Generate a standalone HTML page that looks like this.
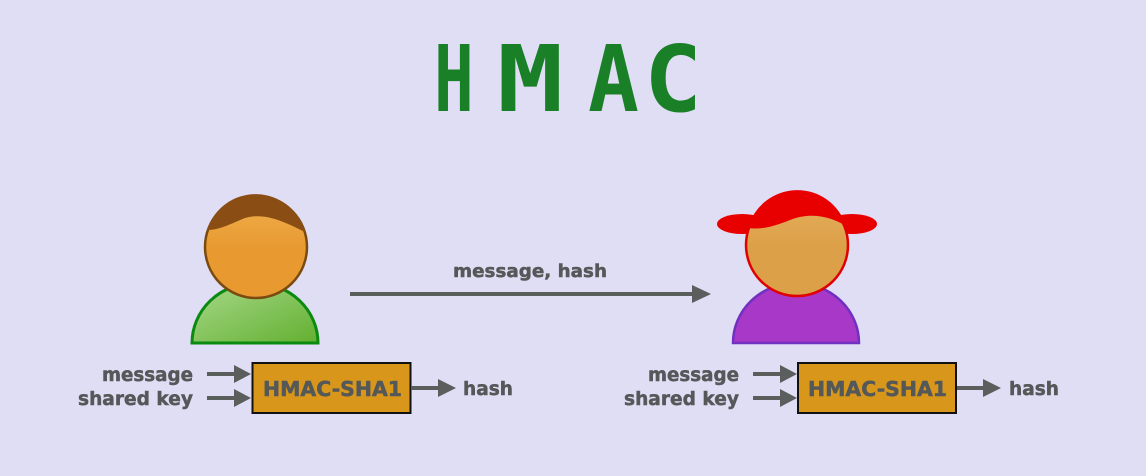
<!DOCTYPE html>
<html><head><style>
html,body{margin:0;padding:0;background:#e0def5;}
svg{display:block}
text{font-family:"DejaVu Sans","Liberation Sans",sans-serif;font-weight:bold;fill:#545858;stroke:#545858;stroke-width:0.5}
.t{fill:#1a8028;stroke:none;font-family:"DejaVu Sans Mono","Liberation Mono",monospace}
</style></head><body>
<svg width="1146" height="476" viewBox="0 0 1146 476" xmlns="http://www.w3.org/2000/svg">
<defs>
<linearGradient id="gb" x1="0" y1="0" x2="1" y2="1"><stop offset="0" stop-color="#a8d88a"/><stop offset="1" stop-color="#62b030"/></linearGradient>
<linearGradient id="gf" x1="0" y1="0" x2="0" y2="1"><stop offset="0" stop-color="#f0b050"/><stop offset="0.5" stop-color="#e89a30"/><stop offset="1" stop-color="#e89a30"/></linearGradient>
<linearGradient id="gf2" x1="0" y1="0" x2="0" y2="1"><stop offset="0" stop-color="#e6b060"/><stop offset="0.5" stop-color="#dca048"/><stop offset="1" stop-color="#dca048"/></linearGradient>
</defs>
<rect width="1146" height="476" fill="#e0def5"/>
<text class="t" transform="translate(434,111) scale(0.72,1)" font-size="92">H</text>
<text class="t" transform="translate(497,111) scale(1.2,1)" font-size="92">M</text>
<text class="t" transform="translate(588,111) scale(0.92,1)" font-size="92">A</text>
<text class="t" transform="translate(644,111) scale(1.05,1)" font-size="92">C</text>

<!-- boy -->
<path d="M192,343 A63,60 0 0 1 318,343 Z" fill="url(#gb)" stroke="#0a8a10" stroke-width="3"/>
<circle cx="256" cy="247" r="51" fill="url(#gf)" stroke="#7a4a10" stroke-width="2.5"/>
<path d="M207,230 A51,51 0 0 1 305,232 C285,222 265,212 245,218 C230,224 220,230 207,230 Z" fill="#8a4e14"/>

<!-- girl -->
<path d="M733,343 A63,60 0 0 1 859,343 Z" fill="#a838c8" stroke="#7030c0" stroke-width="2.5"/>
<ellipse cx="742" cy="224" rx="25" ry="10" fill="#e80000"/>
<ellipse cx="852" cy="224" rx="25" ry="10" fill="#e80000"/>
<circle cx="797" cy="245" r="51" fill="url(#gf2)" stroke="#e00000" stroke-width="2.5"/>
<path d="M748,228 A51,51 0 0 1 846,226 C830,216 810,212 790,220 C775,226 762,230 748,228 Z" fill="#e80000"/>

<!-- main arrow -->
<line x1="350" y1="294" x2="693" y2="294" stroke="#5a5e5c" stroke-width="4"/>
<path d="M692,285 L711,294 L692,303 Z" fill="#5a5e5c"/>
<text x="453" y="277" font-size="18" textLength="154" lengthAdjust="spacingAndGlyphs">message, hash</text>

<!-- left hmac -->
<g>
<text x="102" y="381" font-size="19" textLength="91" lengthAdjust="spacingAndGlyphs">message</text>
<text x="78" y="405" font-size="19" textLength="115" lengthAdjust="spacingAndGlyphs">shared key</text>
<line x1="207" y1="374" x2="235" y2="374" stroke="#5a5e5c" stroke-width="4"/>
<path d="M234,365 L251,374 L234,383 Z" fill="#5a5e5c"/>
<line x1="207" y1="398" x2="235" y2="398" stroke="#5a5e5c" stroke-width="4"/>
<path d="M234,389 L251,398 L234,407 Z" fill="#5a5e5c"/>
<rect x="252.5" y="363" width="158" height="50" fill="#d8961a" stroke="#111" stroke-width="2"/>
<text x="263" y="396" font-size="20" textLength="139" lengthAdjust="spacingAndGlyphs">HMAC-SHA1</text>
<line x1="411" y1="388" x2="440" y2="388" stroke="#5a5e5c" stroke-width="4"/>
<path d="M438,379 L456,388 L438,397 Z" fill="#5a5e5c"/>
<text x="463" y="395" font-size="19" textLength="50" lengthAdjust="spacingAndGlyphs">hash</text>
</g>
<!-- right hmac -->
<g>
<text x="648" y="381" font-size="19" textLength="91" lengthAdjust="spacingAndGlyphs">message</text>
<text x="624" y="405" font-size="19" textLength="115" lengthAdjust="spacingAndGlyphs">shared key</text>
<line x1="753" y1="374" x2="781" y2="374" stroke="#5a5e5c" stroke-width="4"/>
<path d="M780,365 L797,374 L780,383 Z" fill="#5a5e5c"/>
<line x1="753" y1="398" x2="781" y2="398" stroke="#5a5e5c" stroke-width="4"/>
<path d="M780,389 L797,398 L780,407 Z" fill="#5a5e5c"/>
<rect x="798" y="363" width="158" height="50" fill="#d8961a" stroke="#111" stroke-width="2"/>
<text x="808" y="396" font-size="20" textLength="139" lengthAdjust="spacingAndGlyphs">HMAC-SHA1</text>
<line x1="957" y1="388" x2="985" y2="388" stroke="#5a5e5c" stroke-width="4"/>
<path d="M983,379 L1001,388 L983,397 Z" fill="#5a5e5c"/>
<text x="1009" y="395" font-size="19" textLength="50" lengthAdjust="spacingAndGlyphs">hash</text>
</g>
</svg>
</body></html>
